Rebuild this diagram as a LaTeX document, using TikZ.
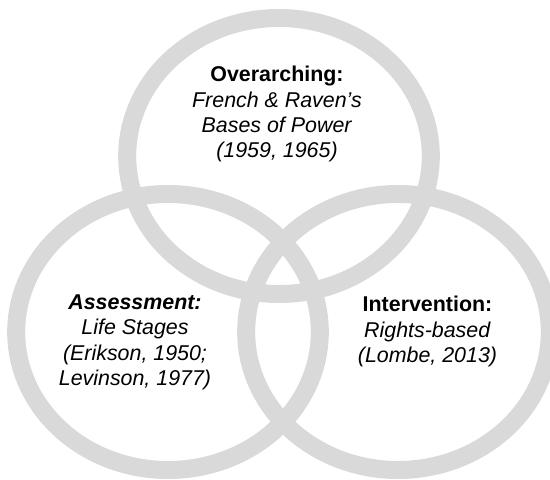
\documentclass[tikz,border=0pt]{standalone}
\usepackage{fontspec}
\setmainfont{Liberation Sans}
\definecolor{ringgray}{HTML}{D9D9D9}
\tikzset{
  ring/.style={draw=ringgray, line width=18pt},
  lbl/.style={align=center, anchor=north, inner sep=0pt, font=\fontsize{21.4pt}{25.3pt}\selectfont}
}
\begin{document}
\begin{tikzpicture}[x=1pt,y=1pt]
\useasboundingbox (0,0) rectangle (550,480);
\clip (0,0) rectangle (550,480);
\fill[white] (0,0) rectangle (550,480);
\draw[ring] (279,324) ellipse [x radius=151.8, y radius=138];
\draw[ring] (168,148) ellipse [x radius=151.8, y radius=138];
\draw[ring] (398,148) ellipse [x radius=151.8, y radius=138];
\node[lbl] (top) at (277,413.8) {\textbf{Overarching:}\\\textit{French \& Raven’s}\\\textit{Bases of Power}\\\textit{(1959, 1965)}};
\node[lbl] (left) at (135,185.5) {\textbf{\textit{Assessment:}}\\\textit{Life Stages}\\\textit{(Erikson, 1950;}\\\textit{Levinson, 1977)}};
\node[lbl] (right) at (427.5,183.8) {\textbf{Intervention:}\\\textit{Rights-based}\\\textit{(Lombe, 2013)}};
\end{tikzpicture}
\end{document}
